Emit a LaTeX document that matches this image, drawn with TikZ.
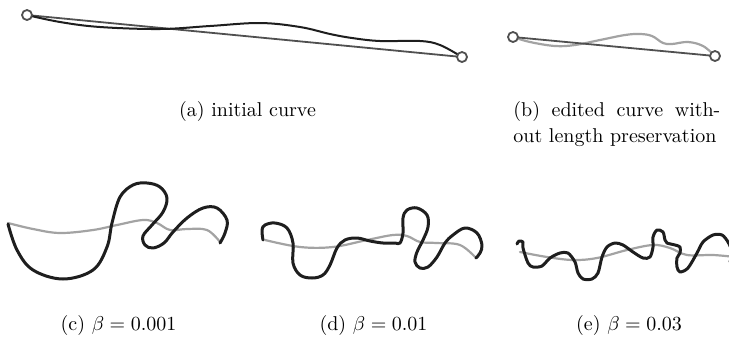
\documentclass[tikz,border=0pt]{standalone}
\usepackage{xcolor}
\usepackage{tikz}
\definecolor{ink}{HTML}{1E1E1E}
\definecolor{chord}{HTML}{505050}
\definecolor{edited}{HTML}{A3A3A3}
\begin{document}
\begin{tikzpicture}[x=0.5pt,y=-0.5pt,
    knot/.style={circle, draw=chord, fill=white, line width=0.9pt, minimum size=5pt, inner sep=0pt},
    chordline/.style={draw=chord, line width=0.9pt},
    initcurve/.style={draw=ink, line width=1pt, line join=round},
    target/.style={draw=edited, line width=1.1pt, line join=round, line cap=round},
    result/.style={draw=ink, line width=1.5pt, line join=round, line cap=round},
    caption/.style={anchor=base, inner sep=0pt}]
  \useasboundingbox (0,0) rectangle (729,339);

  % (a) initial curve
  \coordinate (a0) at (27,15);
  \coordinate (a1) at (462,57);
  \draw[chordline] (a0) -- (a1);
  \draw[initcurve] plot[smooth, tension=0.6] coordinates {(27,15) (60,22) (100,27) (160,29)
    (210,26) (260,23) (300,27) (330,34) (352,38) (380,41) (420,41) (440,45) (462,57)};
  \node[knot] (a0k) at (a0) {};
  \node[knot] (a1k) at (a1) {};
  \node[caption] (capA) at (247.5,116) {(a) initial curve};

  % (b) edited curve
  \coordinate (b0) at (513,37);
  \coordinate (b1) at (715,56);
  \draw[target] plot[smooth, tension=0.6] coordinates {(513,37) (530,42) (555,46) (575,45)
    (600,40) (625,35) (640,34) (652,36) (663,43) (672,44) (688,42) (703,46) (715,56)};
  \draw[chordline] (b0) -- (b1);
  \node[knot] (b0k) at (b0) {};
  \node[knot] (b1k) at (b1) {};
  \node[caption, anchor=base west, text width=103.5pt, align=justify,
        font=\fontsize{10}{13}\selectfont] (capB) at (513,116)
    {(b) edited curve with-\linebreak out length preservation};

  % (c) beta = 0.001
  \draw[target] plot[smooth, tension=0.6] coordinates {(8,223) (33,229) (60,233) (93,230)
    (117,225) (143,220) (157,223) (170,230) (187,229) (207,230) (220,242)};
  \draw[result] plot[smooth, tension=0.6] coordinates {(8,224) (17,250) (33,270) (63,279)
    (93,270) (107,247) (112,223) (120,197) (133,185) (147,183) (160,187) (167,198) (163,212)
    (152,225) (143,236) (145,245) (153,248) (164,243) (173,232) (187,218) (203,208) (217,208)
    (227,220) (225,233) (220,243)};
  \node[caption] (capC) at (118.5,330) {(c) $\beta = 0.001$};

  % (d) beta = 0.01
  \draw[target] plot[smooth, tension=0.6] coordinates {(265,240) (300,247) (333,247) (367,240)
    (393,235) (407,236) (420,242) (437,243) (460,245) (476,258)};
  \draw[result] plot[smooth, tension=0.6] coordinates {(263,240) (262,230) (265,225) (275,223)
    (287,228) (293,243) (293,263) (300,275) (312,278) (323,275) (330,265) (337,248) (345,240)
    (357,238) (370,241) (383,243) (395,243) (400,243) (403,233) (403,218) (407,210) (417,208)
    (427,215) (428,227) (423,240) (417,252) (415,262) (420,268) (428,267) (437,257) (445,243)
    (453,235) (465,228) (477,233) (482,245) (480,253) (476,258)};
  \node[caption] (capD) at (373.5,330) {(d) $\beta = 0.01$};

  % (e) beta = 0.03
  \draw[target] plot[smooth, tension=0.6] coordinates {(520,252) (547,257) (573,260) (597,258)
    (627,250) (653,245) (670,248) (687,255) (713,255) (735,257)};
  \draw[result] plot[smooth, tension=0.5] coordinates {(517,244) (519,241) (523,242) (523,248)
    (528,263) (533,267) (542,266) (550,258) (560,253) (568,253) (575,262) (578,273) (583,279)
    (592,279) (598,273) (602,257) (607,247) (615,243) (623,245) (633,252) (643,258) (650,257)
    (653,247) (653,237) (657,230) (663,232) (665,240) (667,243) (675,245) (680,247) (680,253)
    (677,258) (677,267) (680,272) (688,268) (697,253) (703,242) (713,235) (722,235) (728,242)
    (732,252) (730,262)};
  \node[caption] (capE) at (629,330) {(e) $\beta = 0.03$};
\end{tikzpicture}
\end{document}
